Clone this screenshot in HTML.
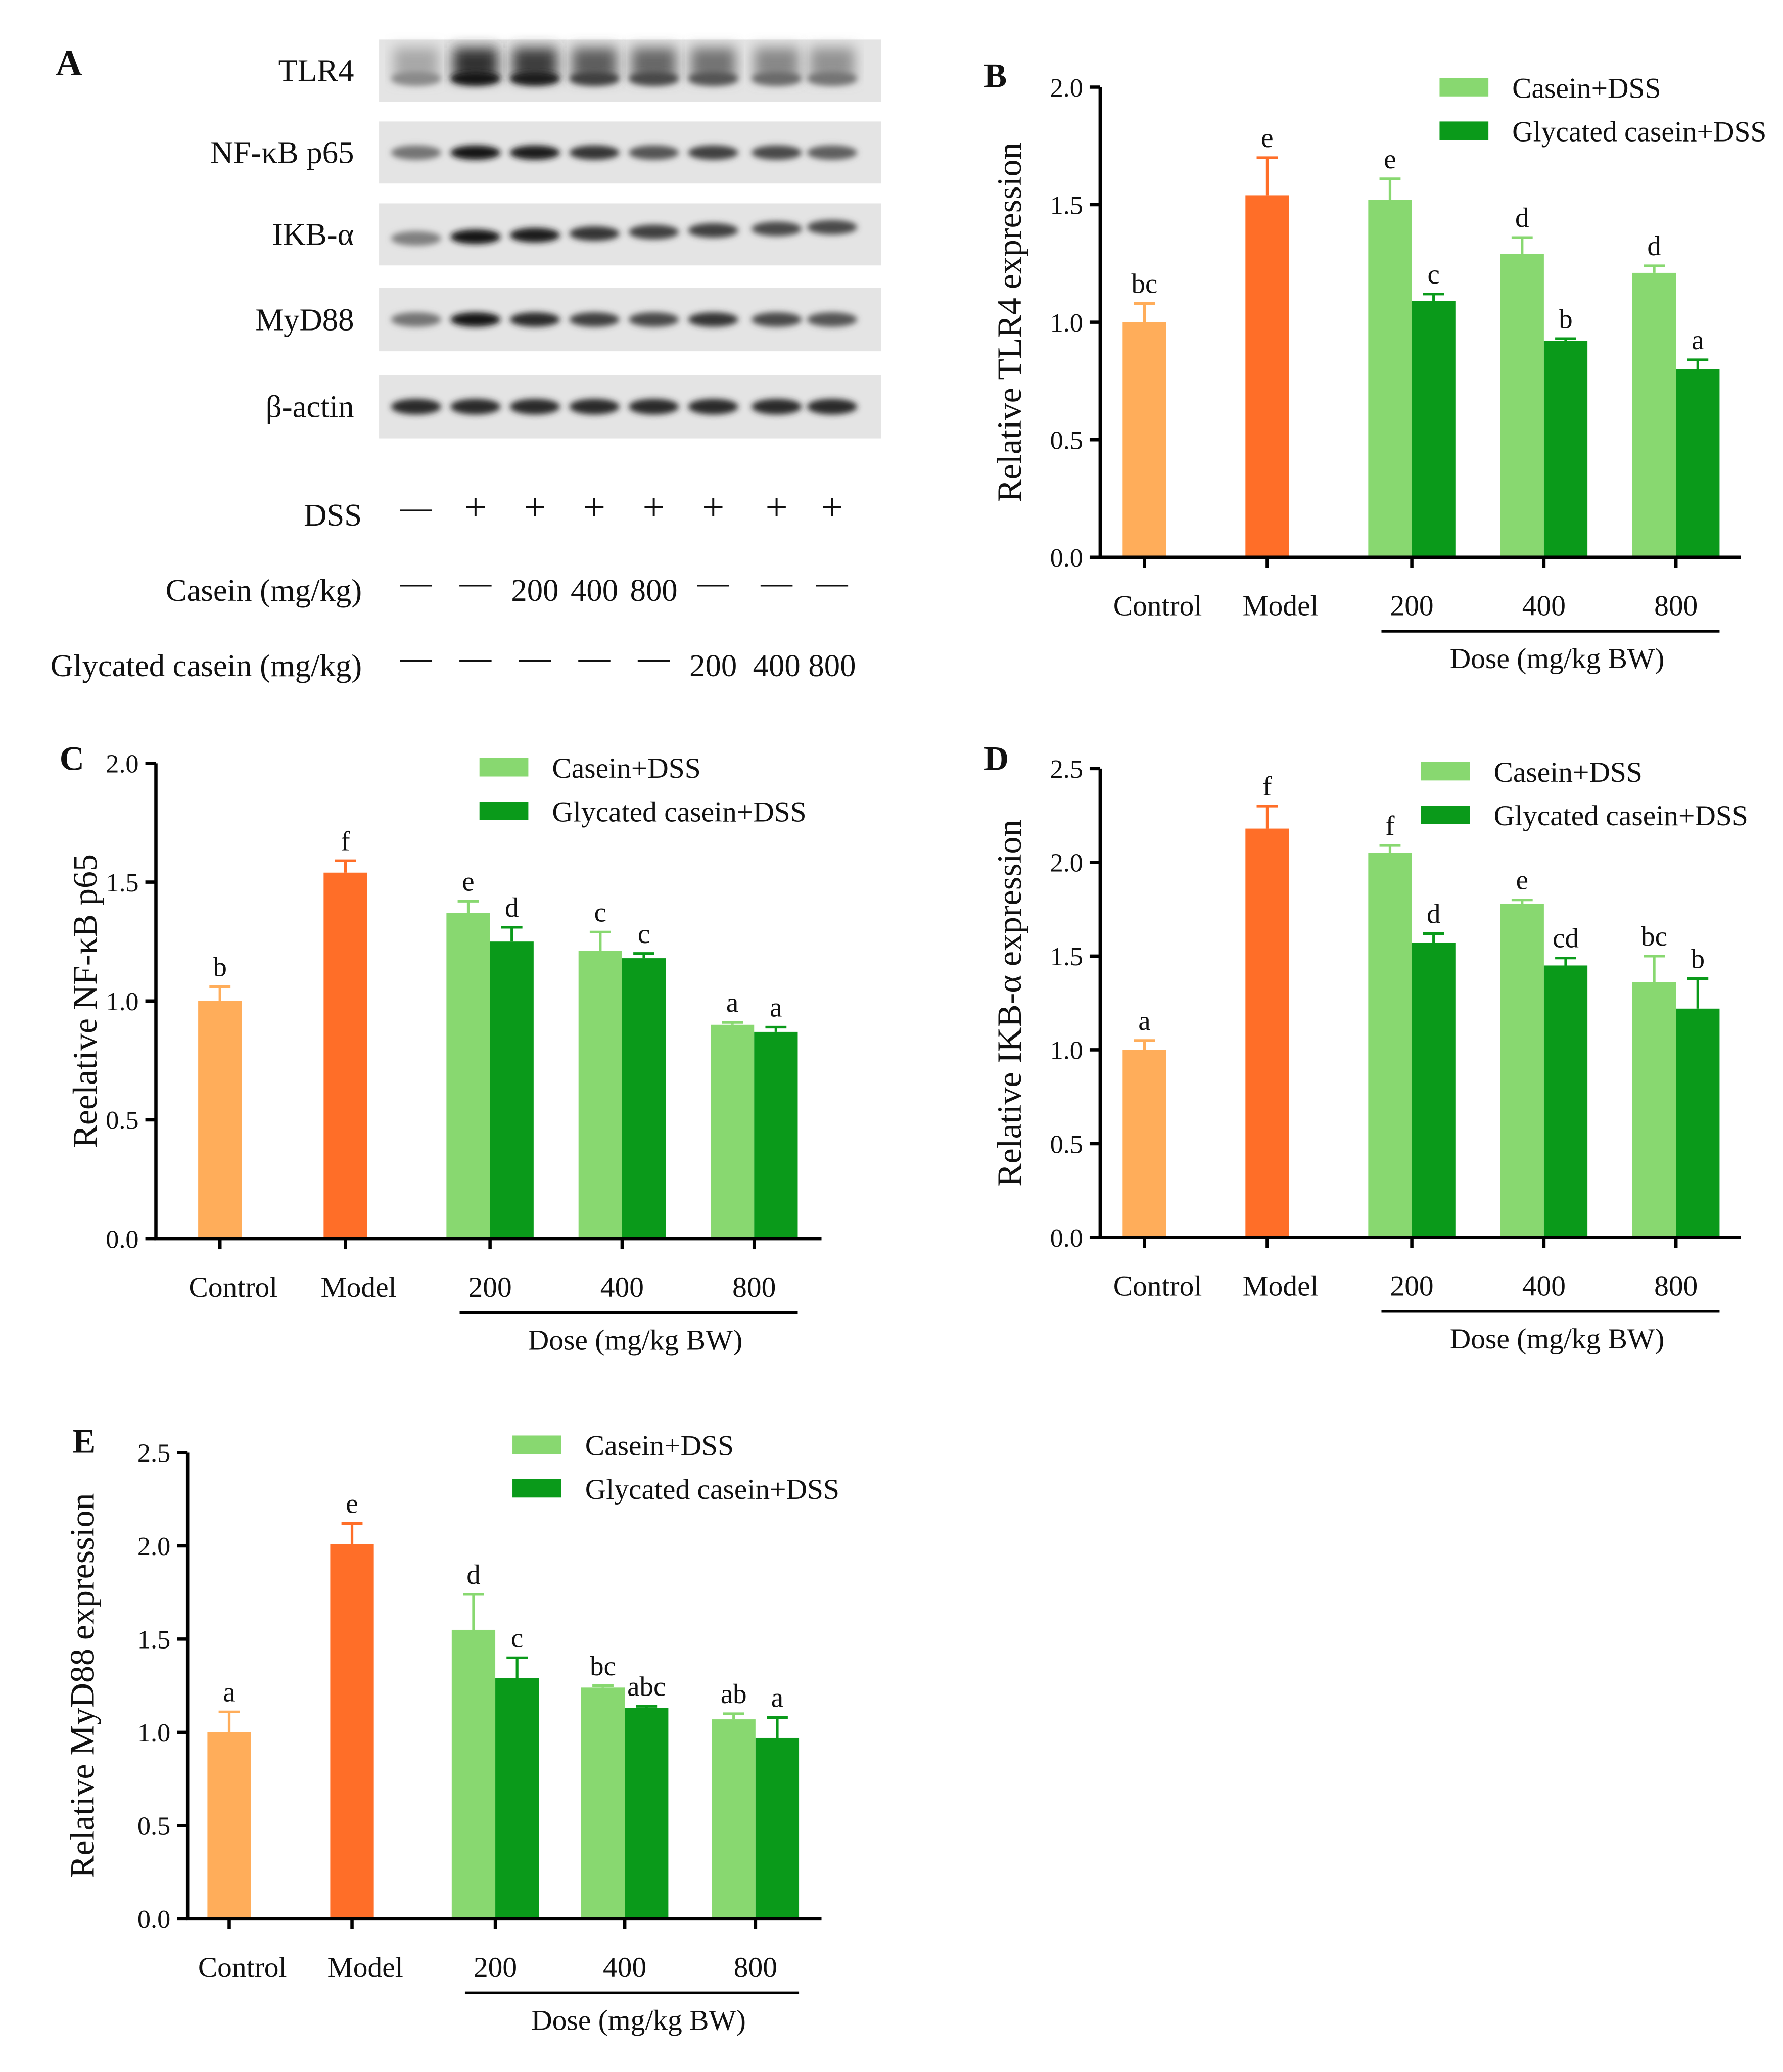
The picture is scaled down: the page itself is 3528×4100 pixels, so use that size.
<!DOCTYPE html>
<html><head><meta charset="utf-8">
<style>
html,body{margin:0;padding:0;background:#fff;}
svg{display:block;}
text{font-family:"Liberation Serif",serif;fill:#111;}
</style></head>
<body>
<svg id="fig" width="3528" height="4100" viewBox="0 0 1350 1569" xmlns="http://www.w3.org/2000/svg">
<defs>
<filter id="blur" x="-20%" y="-50%" width="140%" height="200%"><feGaussianBlur stdDeviation="2.2"/></filter>
<filter id="blur2" x="-20%" y="-50%" width="140%" height="200%"><feGaussianBlur stdDeviation="5"/></filter>
</defs>
<g id="blots"></g>
<g id="charts"></g>
</svg>
<script>
const NS="http://www.w3.org/2000/svg";
function mk(tag,attrs,parent,txt){const e=document.createElementNS(NS,tag);for(const k in attrs)e.setAttribute(k,attrs[k]);if(txt!==undefined)e.textContent=txt;parent.appendChild(e);return e;}

// ---- Panel A data ----
const blotNames=["TLR4","NF-κB p65","IKB-α","MyD88","β-actin"];
const blotIntensity=[
 [0.45,1.0,0.95,0.8,0.75,0.7,0.6,0.55],
 [0.55,1.0,0.95,0.85,0.7,0.8,0.75,0.65],
 [0.5,1.0,0.95,0.85,0.8,0.8,0.75,0.75],
 [0.55,1.0,0.9,0.8,0.75,0.85,0.75,0.7],
 [0.9,0.9,0.9,0.9,0.9,0.9,0.9,0.9]];
const dssRow=["—","+","+","+","+","+","+","+"];
const caseinRow=["—","—","200","400","800","—","—","—"];
const glyRow=["—","—","—","—","—","200","400","800"];

const A=document.getElementById('blots');
const lanes=[315,360,405,450,495,540,588,630];
const rowsY=[[30,77],[92,139],[154,201],[218,266],[284,332]];
let t=mk('text',{x:42,y:57,'font-size':28,'font-weight':'bold'},A,'A');


blotNames.forEach((n,i)=>{
 const [y0,y1]=rowsY[i];
 const g=mk('g',{},A);
 
 
 mk('rect',{x:287,y:y0,width:380,height:y1-y0,fill:'#e4e4e4'},g);
 const cy=(y0+y1)/2+(i===0?6:0);
 blotIntensity[i].forEach((v,j)=>{
  const c=Math.round(235-215*v);
  let dy=(i===2)?(3-j*1.2):0;
  if(i===0){mk('rect',{x:lanes[j]-17,y:y0+6,width:34,height:24,fill:`rgb(${c+30},${c+30},${c+30})`,filter:'url(#blur2)'},g);}
  mk('ellipse',{cx:lanes[j],cy:cy+dy,rx:19,ry:i===4?6:5.5,fill:`rgb(${c},${c},${c})`,filter:'url(#blur)'},g);
 });
 t=mk('text',{x:268,y:(y0+y1)/2+8,'font-size':24,'text-anchor':'end'},A,n);
 
 
});
[[dssRow,"DSS",398],[caseinRow,"Casein (mg/kg)",455],[glyRow,"Glycated casein (mg/kg)",512]].forEach(([row,lab,y])=>{
 t=mk('text',{x:274,y:y,'font-size':24,'text-anchor':'end'},A,lab);
 
 
 row.forEach((v,j)=>{
  t=mk('text',{x:lanes[j],y:y-6+(v==='—'?0:6)- (v==='+'?4:0),'font-size':v==='+'?30:24,'text-anchor':'middle'},A,v);
  
  
 });
});

// ---- Chart data ----
const cats=["Control","Model","200","400","800"];
const bVals=[1.00,1.54,1.52,1.09,1.29,0.92,1.21,0.80];
const bErr=[0.08,0.16,0.09,0.03,0.07,0.01,0.03,0.04];
const bLet=["bc","e","e","c","d","b","d","a"];
const cVals=[1.00,1.54,1.37,1.25,1.21,1.18,0.90,0.87];
const cErr=[0.06,0.05,0.05,0.06,0.08,0.02,0.01,0.02];
const cLet=["b","f","e","d","c","c","a","a"];
const dVals=[1.00,2.18,2.05,1.57,1.78,1.45,1.36,1.22];
const dErr=[0.05,0.12,0.04,0.05,0.02,0.04,0.14,0.16];
const dLet=["a","f","f","d","e","cd","bc","b"];
const eVals=[1.00,2.01,1.55,1.29,1.24,1.13,1.07,0.97];
const eErr=[0.11,0.11,0.19,0.11,0.01,0.01,0.03,0.11];
const eLet=["a","e","d","c","bc","abc","ab","a"];
const ticks20=["0.0","0.5","1.0","1.5","2.0"];
const ticks25=["0.0","0.5","1.0","1.5","2.0","2.5"];

const colors=["#FFAD5A","#FF6E28","#88D870","#0A9A1A","#88D870","#0A9A1A","#88D870","#0A9A1A"];

function chart(cfg){
 const C=document.getElementById('charts');
 const g=mk('g',{},C);
 
 
 const ymax=parseFloat(cfg.ticks[cfg.ticks.length-1]);
 const y=v=>cfg.y0-(v/ymax)*(cfg.y0-cfg.yTop);
 const bx=cfg.bx, w=33;
 cfg.vals.forEach((v,i)=>{
  const b=mk('rect',{x:bx[i],y:y(v),width:w,height:cfg.y0-y(v),fill:colors[i]},g);
  
  
  const cx=bx[i]+w/2, ye=y(v+cfg.err[i]);
  const eb=mk('path',{d:`M${cx},${y(v)}V${ye}M${cx-8},${ye}H${cx+8}`,stroke:colors[i],'stroke-width':2,fill:'none'},g);
  
  
  const l=mk('text',{x:cx,y:ye-8,'font-size':21,'text-anchor':'middle'},g,cfg.lets[i]);
  
  
 });
 const ax=mk('path',{d:`M${cfg.x0},${cfg.yTop}V${cfg.y0}H${cfg.xEnd}`,stroke:'#000','stroke-width':2.5,fill:'none'},g);
 
 
 cfg.ticks.forEach(tk=>{
  const yy=y(parseFloat(tk));
  mk('path',{d:`M${cfg.x0-8},${yy}H${cfg.x0}`,stroke:'#000','stroke-width':2.5},g);
  const tl=mk('text',{x:cfg.x0-13,y:yy+7,'font-size':20,'text-anchor':'end'},g,tk);
  
  
 });
 const cx=[bx[0]+w/2,bx[1]+w/2,bx[3],bx[5],bx[7]];
 cats.forEach((c,i)=>{
  mk('path',{d:`M${cx[i]},${cfg.y0}V${cfg.y0+8}`,stroke:'#000','stroke-width':2.5},g);
  const tl=mk('text',{x:cx[i]+(i<2?10:0),y:cfg.y0+44,'font-size':22,'text-anchor':'middle'},g,c);
  
  
 });
 mk('path',{d:`M${bx[2]+10},${cfg.y0+56}H${bx[7]+w}`,stroke:'#000','stroke-width':2},g);
 const dl=mk('text',{x:(bx[2]+bx[7]+w)/2+10,y:cfg.y0+84,'font-size':22,'text-anchor':'middle'},g,'Dose (mg/kg  BW)');
 
 
 const yt=mk('text',{x:0,y:0,'font-size':26,'text-anchor':'middle',transform:`translate(${cfg.ylx},${(cfg.y0+cfg.yTop)/2}) rotate(-90)`},g,cfg.ylab);
 
 
 const pl=mk('text',{x:cfg.px,y:cfg.py,'font-size':26,'font-weight':'bold'},g,cfg.id.toUpperCase());
 
 
 [["Casein+DSS","#88D870"],["Glycated casein+DSS","#0A9A1A"]].forEach(([n,c],i)=>{
  const ly=cfg.ly+i*33;
  const lg=mk('g',{},g);
  
  
  mk('rect',{x:cfg.lx,y:ly-7,width:37,height:14,fill:c},lg);
  mk('text',{x:cfg.lx+55,y:ly+8,'font-size':22},lg,n);
 });
}
const bxR=[850,943,1036,1069,1136,1169,1236,1269];
chart({id:'b',vals:bVals,err:bErr,lets:bLet,ticks:ticks20,x0:833,xEnd:1318,y0:422,yTop:66,bx:bxR,ylx:773,ylab:'Relative TLR4 expression',px:745,py:66,lx:1090,ly:66});
chart({id:'c',vals:cVals,err:cErr,lets:cLet,ticks:ticks20,x0:118,xEnd:622,y0:938,yTop:578,bx:[150,245,338,371,438,471,538,571],ylx:73,ylab:'Reelative NF-κB p65',px:45,py:583,lx:363,ly:581});
chart({id:'d',vals:dVals,err:dErr,lets:dLet,ticks:ticks25,x0:833,xEnd:1318,y0:937,yTop:582,bx:bxR,ylx:773,ylab:'Relative IKB-α expression',px:745,py:583,lx:1076,ly:584});
chart({id:'e',vals:eVals,err:eErr,lets:eLet,ticks:ticks25,x0:142,xEnd:622,y0:1453,yTop:1100,bx:[157,250,342,375,440,473,539,572],ylx:71,ylab:'Relative MyD88 expression',px:55,py:1100,lx:388,ly:1094});
</script>
</body></html>
